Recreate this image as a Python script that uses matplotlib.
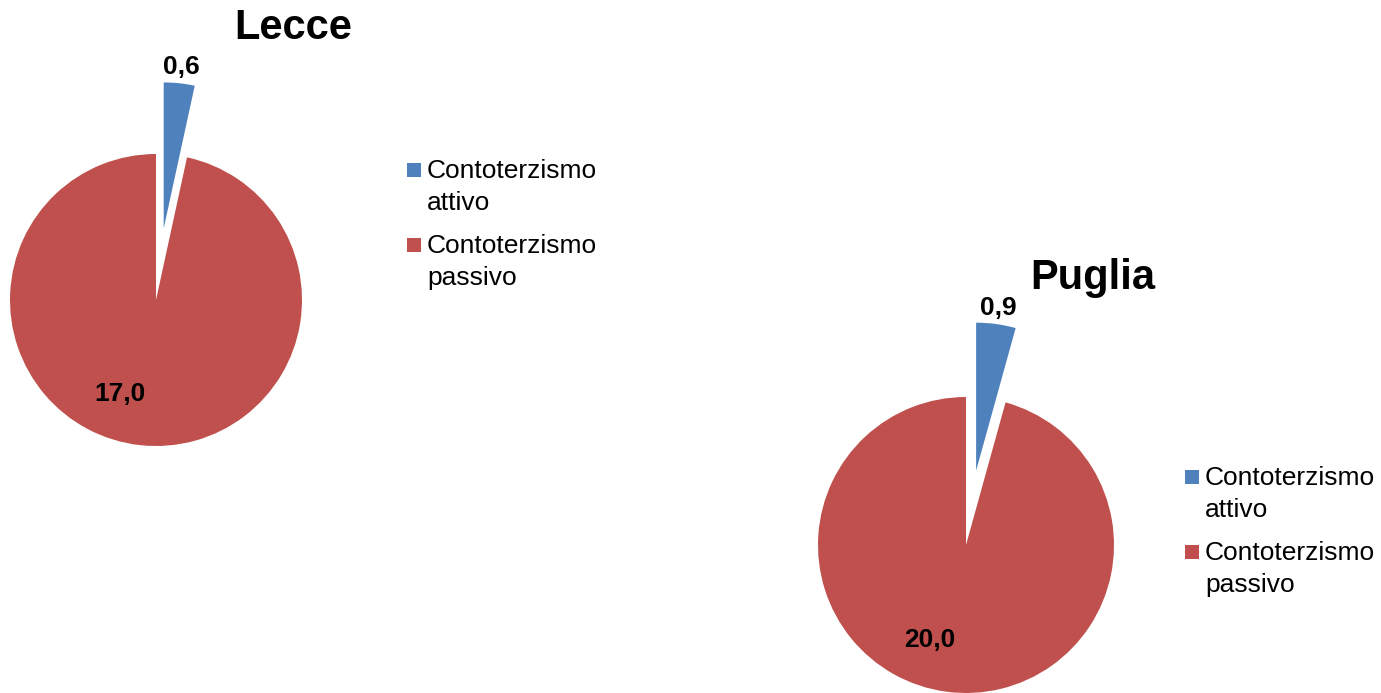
import math
import matplotlib
matplotlib.use("Agg")
import matplotlib.pyplot as plt
from matplotlib.patches import Rectangle

plt.rcParams['font.family'] = ['Liberation Sans', 'DejaVu Sans']

categories = ["Contoterzismo\nattivo", "Contoterzismo\npassivo"]
titles = ["Lecce", "Puglia"]
lecce_values = [0.6, 17.0]
puglia_values = [0.9, 20.0]
colors = ["#4F81BD", "#C0504D"]

W, H = 1381, 693
fig = plt.figure(figsize=(W / 100, H / 100), dpi=100)
ax = fig.add_axes([0, 0, 1, 1])
ax.set_xlim(0, W)
ax.set_ylim(0, H)
ax.set_aspect('equal')
ax.axis('off')

def fmt(v):
    return f"{v:.1f}".replace(".", ",")

def draw_pie(values, title, cx, cy, r, expl, title_xy, leg_x, leg_base):
    wedges, _ = ax.pie(values, center=(cx, cy), radius=r, startangle=90,
                       counterclock=False, colors=colors,
                       explode=[expl, 0], frame=True,
                       wedgeprops=dict(linewidth=0))
    # small slice label: outside, along mid angle of exploded wedge
    w0 = wedges[0]
    tm = math.radians((w0.theta1 + w0.theta2) / 2)
    x0, y0 = w0.center
    ax.text(x0 + 1.11 * r * math.cos(tm), y0 + 1.11 * r * math.sin(tm),
            fmt(values[0]), ha='center', va='center', fontsize=19,
            fontweight='bold', color='black')
    # large slice label: inside
    ang = math.radians(-111)
    ax.text(cx + 0.69 * r * math.cos(ang), cy + 0.69 * r * math.sin(ang),
            fmt(values[1]), ha='center', va='center', fontsize=19,
            fontweight='bold', color='black')
    ax.text(title_xy[0], title_xy[1], title, ha='center', va='center',
            fontsize=30, fontweight='bold', color='black')
    # legend
    for i, (lab, col) in enumerate(zip(categories, colors)):
        base = leg_base - i * 75
        ax.add_patch(Rectangle((leg_x, base + 1), 14, 14, facecolor=col,
                               edgecolor='none'))
        for j, line in enumerate(lab.split("\n")):
            ax.text(leg_x + 20, base - j * 32, line, ha='left',
                    va='baseline', fontsize=19, color='black')

draw_pie(lecce_values, titles[0], 156, H - 300, 146, 72,
         (293, H - 28), 407, H - 178)
draw_pie(puglia_values, titles[1], 966, H - 545, 148, 75,
         (1093, H - 278), 1185, H - 485)

ax.set_xlim(0, W)
ax.set_ylim(0, H)
fig.savefig("out.png", dpi=100)
